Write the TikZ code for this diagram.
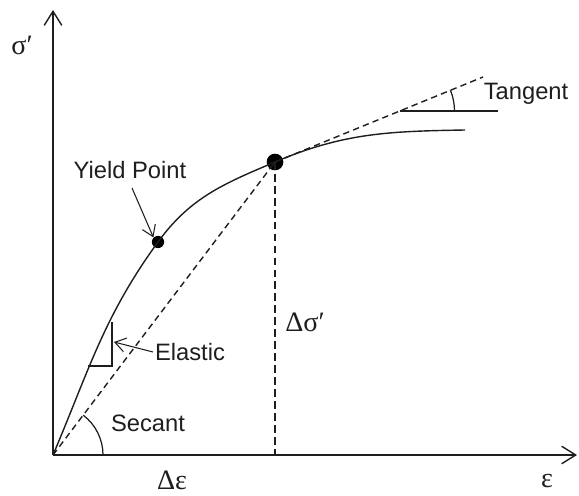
\documentclass[tikz,border=0pt]{standalone}
\usepackage{fontspec}
\setmainfont{Liberation Sans}
\newfontfamily\greekfont{Liberation Serif}
\usetikzlibrary{positioning, arrows.meta}
\definecolor{inkgrey}{RGB}{30, 30, 30}

\begin{document}
\begin{tikzpicture}[
        axisline/.style={line width=1.1pt, draw=inkgrey,
            -{Straight Barb[length=8pt, width=10pt, line width=0.8pt]}},
        curveline/.style={line width=0.8pt, draw=inkgrey},
        guideline/.style={line width=0.8pt, draw=inkgrey,
            dash pattern=on 3.6pt off 2.4pt},
        pointer/.style={line width=0.6pt, draw=inkgrey,
            -{Straight Barb[length=6pt, width=8pt, line width=0.6pt]}},
        bigdot/.style={circle, fill=black, inner sep=0pt},
        label/.style={font=\fontsize{13.5}{16}\selectfont, text=inkgrey,
            inner sep=1pt},
        greeklabel/.style={font=\fontsize{16}{18}\greekfont, text=inkgrey,
            inner sep=1pt}]
    \useasboundingbox (-1.06, -0.8) rectangle (10.52, 9.1);

    \coordinate (origin) at (0, 0);
    \coordinate (ytop) at (0, 8.9);
    \coordinate (xend) at (10.48, 0);
    \node[bigdot, minimum size=7pt] (yield) at (2.1, 4.26) {};
    \node[bigdot, minimum size=9.5pt] (point) at (4.44, 5.86) {};
    \coordinate (curveend) at (8.24, 6.5);
    \coordinate (tanend) at (8.6, 7.56);
    \coordinate (foot) at (4.44, 0);

    % axes
    \draw[axisline] (origin) -- (ytop);
    \draw[axisline] (origin) -- (xend);

    % stress-strain curve
    \draw[curveline] (origin) to[out=67, in=234] (yield.center)
        to[out=54, in=203] (point.center)
        to[out=23, in=181] (curveend);

    % secant, tangent and drop line
    \draw[guideline] (origin) -- (point.center);
    \draw[guideline] (point.center) -- (tanend);
    \draw[guideline, dash pattern=on 4.4pt off 2.4pt] (point.center) -- (foot);

    % tangent angle
    \coordinate (tanvertex) at (6.93, 6.88);
    \coordinate (tanflat) at (8.9, 6.88);
    \draw[curveline, line width=0.7pt] (tanvertex) -- (tanflat);
    \draw[curveline, line width=0.7pt] ([shift={(1.1, 0)}]tanvertex)
        arc[start angle=0, end angle=22.2, radius=1.1];

    % secant angle
    \draw[curveline, line width=0.7pt] (1.0, 0)
        arc[start angle=0, end angle=52.8, radius=1.0];

    % elastic slope triangle
    \coordinate (elbot) at (0.7, 1.78);
    \coordinate (elcorner) at (1.18, 1.78);
    \coordinate (eltop) at (1.18, 2.66);
    \draw[curveline, line width=0.7pt] (elbot) -- (elcorner) -- (eltop);

    % labels
    \node[greeklabel] (sigma) at (-0.62, 8.2) {σ′};
    \node[greeklabel] (eps) at (9.88, -0.52) {ε};
    \node[greeklabel] (deps) at (2.38, -0.5) {Δε};
    \node[greeklabel] (dsigma) at (5.04, 2.66) {Δσ′};
    \node[label] (tangent) at (9.46, 7.22) {Tangent};
    \node[label] (secant) at (1.9, 0.64) {Secant};
    \node[label] (elastic) at (2.74, 2.06) {Elastic};
    \node[label] (yieldlbl) at (1.54, 5.7) {Yield Point};

    \draw[pointer] (elastic.west) -- (1.22, 2.26);
    \draw[pointer] (1.58, 5.34) -- (yield.north west);
\end{tikzpicture}
\end{document}
